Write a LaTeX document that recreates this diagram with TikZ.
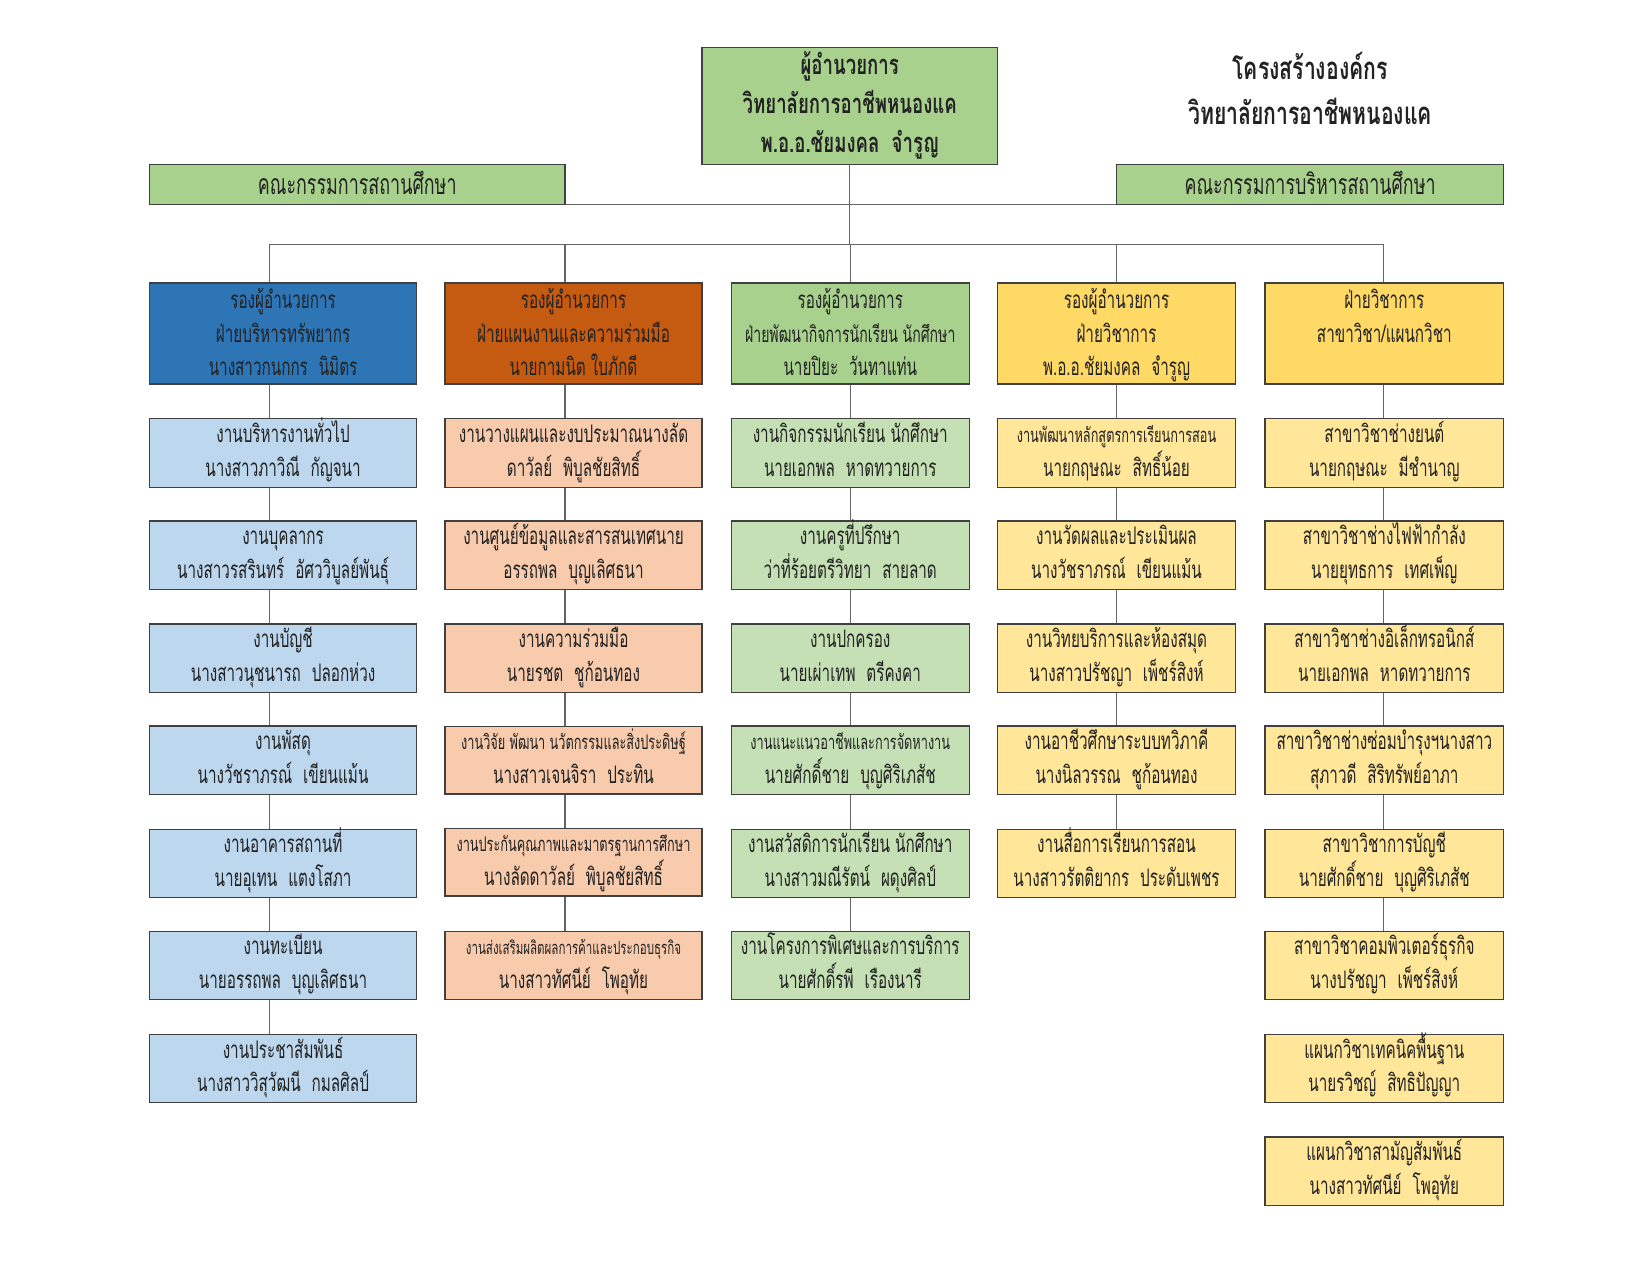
\documentclass[tikz,border=0pt]{standalone}
\usepackage{fontspec}
\newfontfamily\thai[Script=Thai,FakeStretch=0.63]{Loma}
\newfontfamily\thaiB[Script=Thai,FakeStretch=0.68]{Loma}
\usetikzlibrary{calc}
\definecolor{gr}{HTML}{A9D18E}
\definecolor{blueH}{HTML}{2E75B6}
\definecolor{blueS}{HTML}{BDD7EE}
\definecolor{orH}{HTML}{C55A11}
\definecolor{orS}{HTML}{F8CBAD}
\definecolor{grS}{HTML}{C5E0B4}
\definecolor{yeH}{HTML}{FFD966}
\definecolor{yeS}{HTML}{FFE699}
\definecolor{bord}{HTML}{404040}
\definecolor{conn}{HTML}{666666}
\definecolor{txt}{HTML}{222222}
\newcommand\tgap{\hspace{0.45em}}
\newcommand\sm[1]{{\fontsize{9.6}{16}\selectfont #1}}
\newcommand\smb[1]{{\fontsize{10.6}{16}\selectfont #1}}
\newcommand\xs[1]{{\fontsize{8.7}{16}\selectfont #1}}
\newcommand\hstrut{\rule[-4pt]{0pt}{16pt}}
\newcommand\sstrut{\rule[-5pt]{0pt}{16pt}}
\newcommand\two[2]{\sstrut\smash{#1}\\\sstrut\smash{#2}}
\newcommand\three[3]{\hstrut\smash{#1}\\\hstrut\smash{#2}\\\hstrut\smash{#3}}
\begin{document}
\begin{tikzpicture}[x=0.5pt,y=-0.5pt,
  box/.style={draw=bord, line width=0.6pt, inner sep=0pt, align=center, text=txt,
    font=\thai\fontsize{11.5}{16}\selectfont},
  wa/.style={minimum width=127pt},
  wb/.style={minimum width=122pt},
  wc/.style={minimum width=113pt},
  wd/.style={minimum width=113pt},
  we/.style={minimum width=113.5pt},
  sub/.style={minimum height=32.5pt},
  head/.style={minimum height=48pt},
  cline/.style={draw=conn, line width=0.6pt}]
\fill[white] (0,0) rectangle (1568,1211.6);
\useasboundingbox (0,0) rectangle (1568,1211.6);

% top
\node[box, fill=gr, minimum width=140.5pt, minimum height=55.5pt,
  font=\thaiB\bfseries\fontsize{13}{18.5}\selectfont] (dir) at (807.5,100.5)
  {ผู้อำนวยการ\\วิทยาลัยการอาชีพหนองแค\\พ.อ.อ.ชัยมงคล\tgap จำรูญ};
\node[align=center, text=txt, font=\thaiB\bfseries\fontsize{14.8}{21}\selectfont] (title) at (1245,84)
  {โครงสร้างองค์กร\\วิทยาลัยการอาชีพหนองแค};
\node[box, fill=gr, minimum width=197.5pt, minimum height=19pt,
  font=\thai\fontsize{13.5}{16}\selectfont] (cl) at (339.5,175) {\raisebox{1pt}{คณะกรรมการสถานศึกษา}};
\node[box, fill=gr, minimum width=184pt, minimum height=19pt,
  font=\thai\fontsize{13.5}{16}\selectfont] (cr) at (1245,175) {\raisebox{1pt}{คณะกรรมการบริหารสถานศึกษา}};

% headers
\node[box, wa, head, fill=blueH] (h1) at (269,317) {\three{รองผู้อำนวยการ}{ฝ่ายบริหารทรัพยากร}{นางสาวกนกกร\tgap นิมิตร}};
\node[box, wb, head, fill=orH] (h2) at (545,317) {\three{รองผู้อำนวยการ}{ฝ่ายแผนงานและความร่วมมือ}{นายกามนิต ใบภักดี}};
\node[box, wc, head, fill=gr] (h3) at (808,317) {\three{รองผู้อำนวยการ}{\smb{ฝ่ายพัฒนากิจการนักเรียน นักศึกษา}}{นายปิยะ\tgap วันทาแท่น}};
\node[box, wd, head, fill=yeH] (h4) at (1061,317) {\three{รองผู้อำนวยการ}{ฝ่ายวิชาการ}{พ.อ.อ.ชัยมงคล\tgap จำรูญ}};
\node[box, we, head, fill=yeH] (h5) at (1315.5,317) {\three{ฝ่ายวิชาการ}{สาขาวิชา/แผนกวิชา}{}};

% column 1
\node[box, wa, sub, fill=blueS] (a1) at (269,430.5) {\two{งานบริหารงานทั่วไป}{นางสาวภาวิณี\tgap กัญจนา}};
\node[box, wa, sub, fill=blueS] (a2) at (269,527.5) {\two{งานบุคลากร}{นางสาวรสรินทร์\tgap อัศววิบูลย์พันธุ์}};
\node[box, wa, sub, fill=blueS] (a3) at (269,625.5) {\two{งานบัญชี}{นางสาวนุชนารถ\tgap ปลอกห่วง}};
\node[box, wa, sub, fill=blueS] (a4) at (269,722.5) {\two{งานพัสดุ}{นางวัชราภรณ์\tgap เขียนแม้น}};
\node[box, wa, sub, fill=blueS] (a5) at (269,820.5) {\two{งานอาคารสถานที่}{นายอุเทน\tgap แตงโสภา}};
\node[box, wa, sub, fill=blueS] (a6) at (269,917.5) {\two{งานทะเบียน}{นายอรรถพล\tgap บุญเลิศธนา}};
\node[box, wa, sub, fill=blueS] (a7) at (269,1015.5) {\two{งานประชาสัมพันธ์}{นางสาววิสุวัฒนี\tgap กมลศิลป์}};

% column 2
\node[box, wb, sub, fill=orS] (b1) at (545,430.5) {\two{งานวางแผนและงบประมาณนางลัด}{ดาวัลย์\tgap พิบูลชัยสิทธิ์}};
\node[box, wb, sub, fill=orS] (b2) at (545,527.5) {\two{งานศูนย์ข้อมูลและสารสนเทศนาย}{อรรถพล\tgap บุญเลิศธนา}};
\node[box, wb, sub, fill=orS] (b3) at (545,625.5) {\two{งานความร่วมมือ}{นายรชต\tgap ชูก้อนทอง}};
\node[box, wb, fill=orS, minimum height=30.5pt] (b4) at (545,722.5) {\two{\sm{งานวิจัย พัฒนา นวัตกรรมและสิ่งประดิษฐ์}}{นางสาวเจนจิรา\tgap ประทิน}};
\node[box, wb, fill=orS, minimum height=31.5pt] (b5) at (545,819.5) {\two{\sm{งานประกันคุณภาพและมาตรฐานการศึกษา}}{นางลัดดาวัลย์\tgap พิบูลชัยสิทธิ์}};
\node[box, wb, sub, fill=orS] (b6) at (545,917.5) {\two{\xs{งานส่งเสริมผลิตผลการค้าและประกอบธุรกิจ}}{นางสาวทัศนีย์\tgap โพอุทัย}};

% column 3
\node[box, wc, sub, fill=grS] (c1) at (808,430.5) {\two{งานกิจกรรมนักเรียน นักศึกษา}{นายเอกพล\tgap หาดทวายการ}};
\node[box, wc, sub, fill=grS] (c2) at (808,527.5) {\two{งานครูที่ปรึกษา}{ว่าที่ร้อยตรีวิทยา\tgap สายลาด}};
\node[box, wc, sub, fill=grS] (c3) at (808,625.5) {\two{งานปกครอง}{นายเผ่าเทพ\tgap ตรีคงคา}};
\node[box, wc, sub, fill=grS] (c4) at (808,722.5) {\two{\sm{งานแนะแนวอาชีพและการจัดหางาน}}{นายศักดิ์ชาย\tgap บุญศิริเภสัช}};
\node[box, wc, sub, fill=grS] (c5) at (808,820.5) {\two{งานสวัสดิการนักเรียน นักศึกษา}{นางสาวมณีรัตน์\tgap ผดุงศิลป์}};
\node[box, wc, sub, fill=grS] (c6) at (808,917.5) {\two{งานโครงการพิเศษและการบริการ}{นายศักดิ์รพี\tgap เรืองนารี}};

% column 4
\node[box, wd, sub, fill=yeS] (d1) at (1061,430.5) {\two{\sm{งานพัฒนาหลักสูตรการเรียนการสอน}}{นายกฤษณะ\tgap สิทธิ์น้อย}};
\node[box, wd, sub, fill=yeS] (d2) at (1061,527.5) {\two{งานวัดผลและประเมินผล}{นางวัชราภรณ์\tgap เขียนแม้น}};
\node[box, wd, sub, fill=yeS] (d3) at (1061,625.5) {\two{งานวิทยบริการและห้องสมุด}{นางสาวปรัชญา\tgap เพ็ชร์สิงห์}};
\node[box, wd, sub, fill=yeS] (d4) at (1061,722.5) {\two{งานอาชีวศึกษาระบบทวิภาคี}{นางนิลวรรณ\tgap ชูก้อนทอง}};
\node[box, wd, sub, fill=yeS] (d5) at (1061,820.5) {\two{งานสื่อการเรียนการสอน}{นางสาวรัตติยากร\tgap ประดับเพชร}};

% column 5
\node[box, we, sub, fill=yeS] (e1) at (1315.5,430.5) {\two{สาขาวิชาช่างยนต์}{นายกฤษณะ\tgap มีชำนาญ}};
\node[box, we, sub, fill=yeS] (e2) at (1315.5,527.5) {\two{สาขาวิชาช่างไฟฟ้ากำลัง}{นายยุทธการ\tgap เทศเพ็ญ}};
\node[box, we, sub, fill=yeS] (e3) at (1315.5,625.5) {\two{สาขาวิชาช่างอิเล็กทรอนิกส์}{นายเอกพล\tgap หาดทวายการ}};
\node[box, we, sub, fill=yeS] (e4) at (1315.5,722.5) {\two{สาขาวิชาช่างซ่อมบำรุงฯนางสาว}{สุภาวดี\tgap สิริทรัพย์อาภา}};
\node[box, we, sub, fill=yeS] (e5) at (1315.5,820.5) {\two{สาขาวิชาการบัญชี}{นายศักดิ์ชาย\tgap บุญศิริเภสัช}};
\node[box, we, sub, fill=yeS] (e6) at (1315.5,917.5) {\two{สาขาวิชาคอมพิวเตอร์ธุรกิจ}{นางปรัชญา\tgap เพ็ชร์สิงห์}};
\node[box, we, sub, fill=yeS] (e7) at (1315.5,1015.5) {\two{แผนกวิชาเทคนิคพื้นฐาน}{นายรวิชญ์\tgap สิทธิปัญญา}};
\node[box, we, sub, fill=yeS] (e8) at (1315.5,1113) {\two{แผนกวิชาสามัญสัมพันธ์}{นางสาวทัศนีย์\tgap โพอุทัย}};

% connector coordinates
\coordinate (l1) at (256,0);
\coordinate (l2) at (537,0);
\coordinate (l3) at (808,0);
\coordinate (l4) at (1061,0);
\coordinate (l5) at (1315,0);
\coordinate (bus) at (0,232);

\draw[cline] (cl.south east) -- (cr.south west);
\draw[cline] (dir.south) -- (dir.south |- bus);
\draw[cline] (l1 |- bus) -- (l5 |- bus);
\foreach \h/\l in {h1/l1,h2/l2,h3/l3,h4/l4,h5/l5}
  \draw[cline] (\l |- bus) -- (\h.north -| \l);
\foreach \u/\v/\l in {h1/a1/l1,a1/a2/l1,a2/a3/l1,a3/a4/l1,a4/a5/l1,a5/a6/l1,a6/a7/l1,
  h2/b1/l2,b1/b2/l2,b2/b3/l2,b3/b4/l2,b4/b5/l2,b5/b6/l2,
  h3/c1/l3,c1/c2/l3,c2/c3/l3,c3/c4/l3,c4/c5/l3,c5/c6/l3,
  h4/d1/l4,d1/d2/l4,d2/d3/l4,d3/d4/l4,d4/d5/l4,
  h5/e1/l5,e1/e2/l5,e2/e3/l5,e3/e4/l5,e4/e5/l5,e5/e6/l5}
  \draw[cline] (\u.south -| \l) -- (\v.north -| \l);
\end{tikzpicture}
\end{document}
